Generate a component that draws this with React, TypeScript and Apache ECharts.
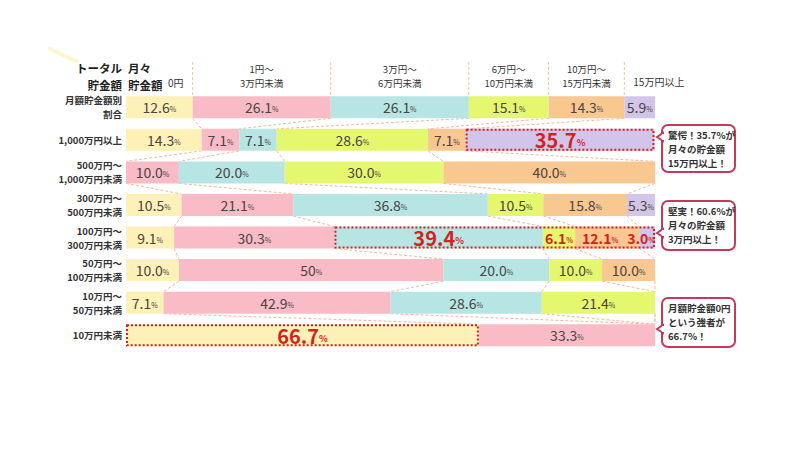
import React, { useEffect, useRef } from 'react';
import * as echarts from 'echarts';

const rows = [
  '月額貯金額別\n割合',
  '1,000万円以上',
  '500万円〜\n1,000万円未満',
  '300万円〜\n500万円未満',
  '100万円〜\n300万円未満',
  '50万円〜\n100万円未満',
  '10万円〜\n50万円未満',
  '10万円未満',
];

const columns = ['0円', '1円〜\n3万円未満', '3万円〜\n6万円未満', '6万円〜\n10万円未満', '10万円〜\n15万円未満', '15万円以上'];

const yen0 = ['12.6', '14.3', '0', '10.5', '9.1', '10.0', '7.1', '66.7'];
const yen1to3 = ['26.1', '7.1', '10.0', '21.1', '30.3', '50', '42.9', '33.3'];
const yen3to6 = ['26.1', '7.1', '20.0', '36.8', '39.4', '20.0', '28.6', '0'];
const yen6to10 = ['15.1', '28.6', '30.0', '10.5', '6.1', '10.0', '21.4', '0'];
const yen10to15 = ['14.3', '7.1', '40.0', '15.8', '12.1', '10.0', '0', '0'];
const yen15plus = ['5.9', '35.7', '0', '5.3', '3.0', '0', '0', '0'];

const columnData = [yen0, yen1to3, yen3to6, yen6to10, yen10to15, yen15plus];

// highlighted spans: [row, first column, last column]
const highlightSpans = [
  [1, 5, 5],
  [4, 2, 5],
  [7, 0, 0],
];
const bigRedLabels = [[1, 5], [4, 2], [7, 0]];
const redLabels = [[4, 3], [4, 4], [4, 5]];

const calloutTexts = [
  '驚愕！35.7%が\n月々の貯金額\n15万円以上！',
  '堅実！60.6%が\n月々の貯金額\n3万円以上！',
  '月額貯金額0円\nという強者が\n66.7%！',
];

const colors = ['#fdf1b8', '#f9bcc7', '#b7e5e3', '#e5f76e', '#f9c790', '#d3c5ea'];
const RED = '#d5221e';
const TEXT = '#4a4444';
const FONT = '"Noto Sans CJK JP", "Noto Sans", sans-serif';

function isIn(list: number[][], r: number, c: number) {
  return list.some((p) => p[0] === r && p[1] === c);
}

function cumulative(r: number) {
  const out = [0];
  let s = 0;
  columnData.forEach((col) => {
    s += parseFloat(col[r]);
    out.push(s);
  });
  return out;
}

export default function App() {
  const ref = useRef<HTMLDivElement>(null);
  useEffect(() => {
    if (!ref.current) return;
    const chart = echarts.init(ref.current, undefined, { renderer: 'svg' });

    const barSeries = columnData.map((col, ci) => ({
      type: 'bar',
      name: columns[ci],
      stack: 'total',
      barWidth: 22,
      itemStyle: { color: colors[ci] },
      data: col.map((s, ri) => {
        const v = parseFloat(s);
        const big = isIn(bigRedLabels, ri, ci);
        const red = isIn(redLabels, ri, ci);
        const isLast = ci === columnData.length - 1;
        const beforeLastRed = red && isIn(redLabels, ri, ci + 1) && ci + 1 === columnData.length - 1;
        return {
          value: v,
          text: s,
          label: big
            ? { rich: { v: { fontSize: 20, fontWeight: 'bold', color: RED, fontFamily: FONT }, p: { fontSize: 9, fontWeight: 'bold', color: RED, padding: [6, 0, 0, 0] } } }
            : red
            ? {
                position: isLast ? 'insideRight' : 'inside',
                distance: 0,
                offset: beforeLastRed ? [-7, 0] : [0, 0],
                rich: { v: { fontSize: 14, fontWeight: 'bold', color: RED, fontFamily: FONT }, p: { fontSize: 7, fontWeight: 'bold', color: RED, padding: [4, 0, 0, 0] } },
              }
            : undefined,
        };
      }),
      label: {
        show: true,
        position: 'inside',
        formatter: (p: any) => (p.value ? `{v|${p.data.text}}{p|%}` : ''),
        rich: {
          v: { fontSize: 14, color: TEXT, fontFamily: FONT },
          p: { fontSize: 7, color: TEXT, padding: [4, 0, 0, 0] },
        },
      },
    }));

    const connectorData: any[] = [];
    for (let r = 0; r < rows.length - 1; r++) {
      const a = cumulative(r);
      const b = cumulative(r + 1);
      for (let k = 1; k < columnData.length; k++) {
        connectorData.push([Math.min(a[k], 100), rows[r], Math.min(b[k], 100), rows[r + 1]]);
      }
    }

    const highlightData = highlightSpans.map(([r, c0, c1]) => {
      const cu = cumulative(r);
      return [cu[c0], Math.min(cu[c1 + 1], 100), rows[r]];
    });

    chart.setOption({
      animation: false,
      textStyle: { fontFamily: FONT },
      grid: { left: 126, right: 145, top: 91, bottom: 98.5 },
      xAxis: { type: 'value', min: 0, max: 100, show: false },
      yAxis: {
        type: 'category',
        inverse: true,
        data: rows,
        axisLine: { show: false },
        axisTick: { show: false },
        axisLabel: { fontSize: 9.5, fontWeight: 'bold', color: '#333', lineHeight: 14, margin: 4, fontFamily: FONT },
      },
      series: [
        ...barSeries,
        {
          type: 'custom',
          silent: true,
          z: 1,
          encode: { x: [0, 2], y: [1, 3] },
          data: connectorData,
          renderItem: (params: any, api: any) => {
            const a = api.coord([api.value(0), api.value(1)]);
            const b = api.coord([api.value(2), api.value(3)]);
            return {
              type: 'line',
              shape: { x1: a[0], y1: a[1] + 11, x2: b[0], y2: b[1] - 11 },
              style: { stroke: '#f1b89f', lineWidth: 1, lineDash: [3, 2] },
            };
          },
        },
        {
          type: 'custom',
          silent: true,
          z: 5,
          encode: { x: [0, 1], y: 2 },
          data: highlightData,
          renderItem: (params: any, api: any) => {
            const a = api.coord([api.value(0), api.value(2)]);
            const b = api.coord([api.value(1), api.value(2)]);
            return {
              type: 'rect',
              shape: { x: a[0] + 1, y: a[1] - 10, width: b[0] - a[0] - 2, height: 20 },
              style: { fill: 'none', stroke: RED, lineWidth: 2, lineDash: [2, 2] },
            };
          },
        },
      ],
    });

    // header built from row 0 boundaries
    const bounds = cumulative(0).map((v) => Math.min(v, 100));
    const px = (v: number) => chart.convertToPixel({ xAxisIndex: 0 }, v) as number;
    const rowTop = (chart.convertToPixel({ yAxisIndex: 0 }, rows[0]) as number) - 11;
    const graphics: any[] = [];
    graphics.push({
      type: 'line',
      shape: { x1: 48, y1: 48, x2: 78, y2: 62 },
      style: { stroke: '#fdf6cf', lineWidth: 4 },
    });
    graphics.push({
      type: 'text',
      x: px(0) - 4,
      y: 60,
      style: { text: 'トータル\n貯金額', align: 'right', fontSize: 11.5, fontWeight: 'bold', lineHeight: 16.5, fill: '#222', fontFamily: FONT },
    });
    graphics.push({
      type: 'text',
      x: px(0) + 2,
      y: 60,
      style: { text: '月々\n貯金額', align: 'left', fontSize: 11.5, fontWeight: 'bold', lineHeight: 16.5, fill: '#222', fontFamily: FONT },
    });
    graphics.push({
      type: 'text',
      x: px(0) + 42,
      y: 77,
      style: { text: columns[0], align: 'left', fontSize: 10, fill: '#333', fontFamily: FONT },
    });
    for (let k = 1; k < columns.length; k++) {
      const x0 = px(bounds[k]);
      const x1 = px(bounds[k + 1]);
      graphics.push({
        type: 'line',
        shape: { x1: x0, y1: 62, x2: x0, y2: rowTop },
        style: { stroke: '#f1c3a6', lineWidth: 1, lineDash: [3, 2] },
      });
      if (k < columns.length - 1) {
        graphics.push({
          type: 'text',
          x: (x0 + x1) / 2,
          y: 62,
          style: { text: columns[k], align: 'center', fontSize: 9.5, lineHeight: 14, fill: '#333', fontFamily: FONT },
        });
      } else {
        graphics.push({
          type: 'text',
          x: x0 + 9,
          y: 76,
          style: { text: columns[k], align: 'left', fontSize: 10, fill: '#333', fontFamily: FONT },
        });
      }
    }

    const calloutBoxes = [
      { y: 125, h: 47, py: 137 },
      { y: 201, h: 49, py: 233 },
      { y: 298, h: 49, py: 329 },
    ];
    calloutBoxes.forEach((b, i) => {
      graphics.push({
        type: 'rect',
        shape: { x: 662, y: b.y, width: 73, height: b.h, r: 6 },
        style: { fill: '#fff', stroke: '#c8385a', lineWidth: 2 },
      });
      graphics.push({
        type: 'polygon',
        shape: { points: [[663, b.py - 4], [657, b.py], [663, b.py + 4]] },
        style: { fill: '#fff', stroke: '#c8385a', lineWidth: 2 },
      });
      graphics.push({
        type: 'rect',
        shape: { x: 662, y: b.py - 3, width: 3, height: 6 },
        style: { fill: '#fff' },
      });
      graphics.push({
        type: 'text',
        x: 668,
        y: b.y + 3,
        style: { text: calloutTexts[i], fontSize: 9.5, fontWeight: 'bold', lineHeight: 14, fill: '#333', fontFamily: FONT },
      });
    });

    chart.setOption({ graphic: graphics });

    return () => chart.dispose();
  }, []);

  return <div ref={ref} style={{ position: 'fixed', left: 0, top: 0, width: 800, height: 450, background: '#fff' }} />;
}
